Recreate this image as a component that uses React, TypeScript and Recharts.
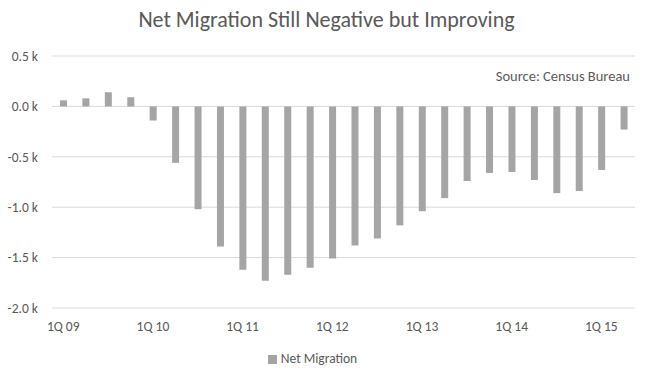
import React from 'react';
import {
  BarChart,
  Bar,
  XAxis,
  YAxis,
  CartesianGrid,
  Legend,
} from 'recharts';

const quarters = [
  '1Q 09', '2Q 09', '3Q 09', '4Q 09',
  '1Q 10', '2Q 10', '3Q 10', '4Q 10',
  '1Q 11', '2Q 11', '3Q 11', '4Q 11',
  '1Q 12', '2Q 12', '3Q 12', '4Q 12',
  '1Q 13', '2Q 13', '3Q 13', '4Q 13',
  '1Q 14', '2Q 14', '3Q 14', '4Q 14',
  '1Q 15', '2Q 15',
];

const netMigration = [
  60, 80, 140, 90,
  -140, -560, -1020, -1390,
  -1620, -1730, -1670, -1600,
  -1510, -1380, -1310, -1180,
  -1040, -910, -740, -660,
  -650, -730, -860, -840,
  -630, -230,
];

const yTicks = [500, 0, -500, -1000, -1500, -2000];

const data = quarters.map((q, i) => ({ name: q, value: netMigration[i] }));

const font = 'Calibri, Carlito, "Open Sans", sans-serif';
const textColor = '#595959';

export default function App() {
  return (
    <div
      style={{
        position: 'absolute',
        left: 0,
        top: 0,
        width: 653,
        height: 379,
        background: '#fff',
        fontFamily: font,
      }}
    >
      <div
        style={{
          position: 'absolute',
          top: 6,
          left: 0,
          width: 653,
          textAlign: 'center',
          fontSize: 22,
          color: textColor,
        }}
      >
        Net Migration Still Negative but Improving
      </div>
      <div
        style={{
          position: 'absolute',
          top: 67,
          right: 23,
          fontSize: 14.5,
          color: textColor,
        }}
      >
        Source: Census Bureau
      </div>
      <BarChart
        width={653}
        height={379}
        data={data}
        margin={{ top: 56, right: 18, left: 0, bottom: 22 }}
        barCategoryGap={0}
      >
        <CartesianGrid vertical={false} stroke="#d9d9d9" />
        <XAxis
          dataKey="name"
          interval={3}
          axisLine={false}
          tickLine={false}
          tickMargin={7}
          tick={{ fontSize: 13.5, fill: textColor, fontFamily: font }}
          height={30}
        />
        <YAxis
          domain={[-2000, 500]}
          ticks={yTicks}
          axisLine={false}
          tickLine={false}
          width={52}
          tickMargin={8}
          tick={{ fontSize: 13.5, fill: textColor, fontFamily: font }}
          tickFormatter={(v: number) => `${(v / 1000).toFixed(1)} k`}
        />
        <Legend
          verticalAlign="bottom"
          iconType="square"
          iconSize={9}
          formatter={(v: string) => (
            <span style={{ color: textColor, fontSize: 13.5, fontFamily: font }}>{v}</span>
          )}
          wrapperStyle={{ bottom: 12 }}
        />
        <Bar
          dataKey="value"
          name="Net Migration"
          fill="#a5a5a5"
          barSize={7}
          isAnimationActive={false}
        />
      </BarChart>
    </div>
  );
}
